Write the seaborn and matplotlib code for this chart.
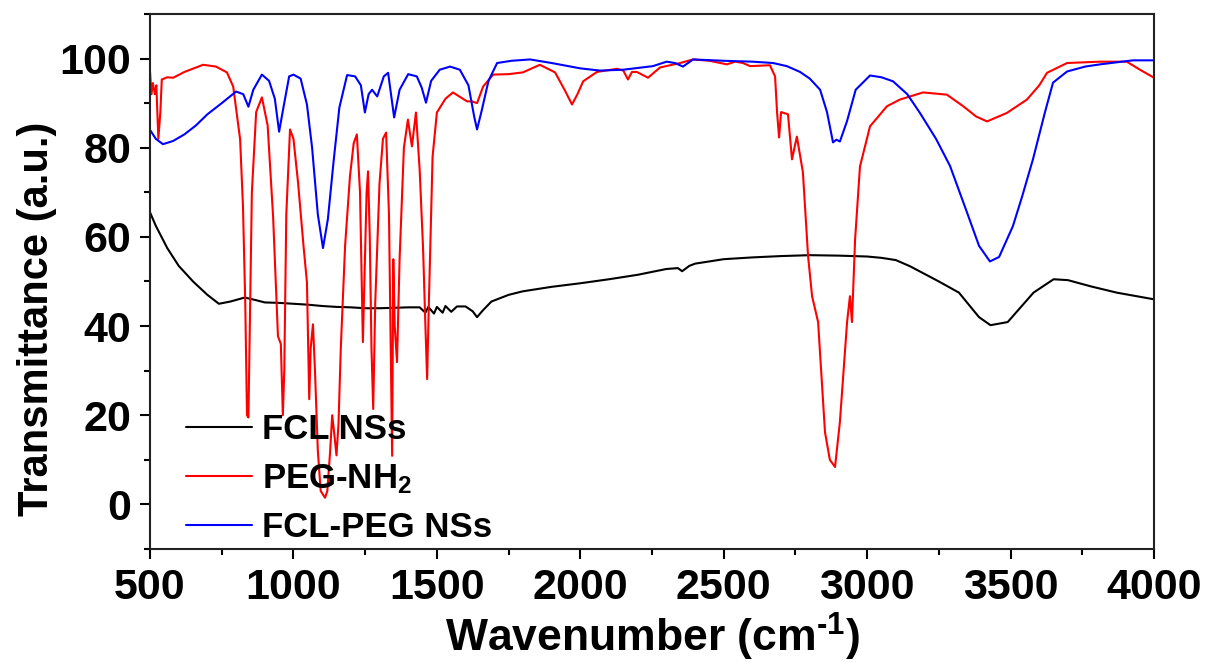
import pandas as pd
import matplotlib
matplotlib.use("Agg")
import matplotlib.pyplot as plt
from matplotlib.ticker import MultipleLocator
import seaborn as sns

# FCL NSs (black)
fcl_wn = [500, 520, 560, 600, 650, 700, 740, 780, 830, 870, 900, 950, 1000, 1050, 1100, 1150,
          1200, 1250, 1300, 1350, 1400, 1440, 1460, 1470, 1490, 1500, 1520, 1530, 1550, 1570,
          1600, 1625, 1640, 1660, 1690, 1750, 1800, 1900, 2000, 2100, 2200, 2300, 2340, 2355,
          2380, 2400, 2500, 2600, 2700, 2800, 2900, 3000, 3050, 3100, 3150, 3250, 3320, 3390,
          3430, 3490, 3580, 3650, 3700, 3780, 3870, 4000]
fcl_t = [65.5, 62.5, 57.5, 53.5, 50, 47, 45, 45.5, 46.4, 45.8, 45.3, 45.2, 45, 44.8, 44.5, 44.3,
         44.2, 44, 44, 44.1, 44.2, 44.2, 43, 44.3, 42.8, 44.3, 43, 44.5, 43.2, 44.4,
         44.4, 43.3, 42, 43.5, 45.5, 47, 47.8, 48.8, 49.6, 50.5, 51.5, 52.8, 53, 52.3,
         53.5, 54, 55, 55.4, 55.7, 55.9, 55.8, 55.6, 55.3, 54.8, 53.4, 50, 47.5, 42,
         40.2, 40.9, 47.5, 50.5, 50.3, 48.9, 47.5, 46]

# PEG-NH2 (red)
peg_wn = [500, 505, 510, 517, 522, 529, 536, 541, 560, 581, 620, 685, 730, 768, 790, 814, 824,
          832, 838, 843, 848, 855, 870, 890, 910, 929, 946, 956, 963, 968, 975, 988, 1000, 1016,
          1035, 1047, 1055, 1060, 1068, 1075, 1085, 1095, 1110, 1118, 1128, 1135, 1142, 1150,
          1157, 1165, 1180, 1197, 1210, 1221, 1232, 1238, 1242, 1248, 1255, 1260, 1266, 1272,
          1278, 1285, 1300, 1312, 1323, 1333, 1340, 1344, 1348, 1353, 1361, 1370, 1385, 1399,
          1413, 1427, 1440, 1452, 1460, 1466, 1472, 1485, 1500, 1530, 1556, 1605, 1622, 1640,
          1661, 1696, 1750, 1800, 1859, 1912, 1945, 1971, 1990, 2010, 2058, 2128, 2150, 2166,
          2180, 2197, 2236, 2278, 2348, 2393, 2450, 2511, 2540, 2567, 2592, 2661, 2679, 2686,
          2693, 2700, 2724, 2738, 2755, 2776, 2794, 2808, 2829, 2853, 2870, 2888, 2905, 2930,
          2940, 2947, 2958, 2975, 3010, 3069, 3114, 3195, 3278, 3335, 3380, 3418, 3487, 3557,
          3600, 3627, 3697, 3812, 3905, 3951, 4000]
peg_t = [97, 92, 94.5, 92, 94, 82, 88, 95.3, 95.8, 95.7, 97, 98.6, 98.2, 96.9, 93.7, 81.9, 66.9,
         45, 20, 19.5, 40, 70, 88, 91.3, 85, 64.6, 37.7, 36, 20, 30, 65, 84.1, 82, 72.2,
         58, 49.8, 23.6, 35, 40.4, 30, 12, 3, 1.5, 3, 12, 20, 16, 11,
         18, 35, 58, 73.6, 81, 83, 70, 50, 36.4, 52, 70, 74.7, 60, 35,
         21.4, 45, 72, 82, 83.4, 65, 30, 10.9, 55, 40, 31.9, 55, 80, 86.3,
         80.3, 87.9, 75, 57.2, 40, 28.1, 45, 78, 87.9, 91, 92.4, 90.4, 90.4, 90,
         93.7, 96.4, 96.5, 96.9, 98.6, 96.9, 93, 89.7, 92, 94.9, 97, 97.7, 97.3, 95.3,
         97, 97, 95.7, 98, 99, 99.8, 99.5, 98.7, 99.3, 99, 98.3, 98.5, 96, 87.9,
         82.3, 88, 87.5, 77.4, 82.5, 74.5, 55.7, 46.7, 40.9, 16.2, 10, 8.4, 18.5, 40.9,
         46.7, 40.9, 59.5, 75.8, 84.8, 89.3, 90.8, 92.4, 91.9, 89.3, 87, 85.9, 87.8, 90.8,
         94, 96.8, 99, 99.3, 99.3, 97.5, 95.7]

# FCL-PEG NSs (blue)
fclpeg_wn = [500, 520, 545, 580, 620, 660, 700, 750, 800, 825, 843, 860, 890, 915, 935, 950, 965,
             985, 1000, 1025, 1047, 1065, 1085, 1103, 1120, 1140, 1160, 1187, 1215, 1235, 1249,
             1262, 1274, 1292, 1315, 1330, 1351, 1370, 1400, 1430, 1447, 1462, 1480, 1510, 1546,
             1580, 1610, 1630, 1640, 1655, 1680, 1710, 1760, 1825, 1900, 2000, 2069, 2150, 2253,
             2301, 2330, 2358, 2393, 2500, 2600, 2672, 2720, 2766, 2800, 2836, 2860, 2881, 2893,
             2905, 2930, 2960, 3010, 3050, 3090, 3140, 3184, 3240, 3289, 3348, 3390, 3428, 3460,
             3508, 3540, 3578, 3620, 3648, 3697, 3760, 3812, 3927, 4000]
fclpeg_t = [84, 82, 80.8, 81.5, 83, 85, 87.5, 90, 92.6, 92, 89.2, 93, 96.4, 95, 91, 83.6, 89,
            96, 96.4, 95.5, 89.7, 80, 65, 57.5, 64, 77, 89, 96.3, 96, 94, 87.9,
            92, 93, 91.5, 96, 96.8, 86.8, 93, 96.5, 96, 93.5, 90.1, 95, 97.5, 98.2,
            97.5, 94, 87, 84.1, 88, 95, 99, 99.5, 99.8, 99, 97.8, 97.3, 97.5, 98.3,
            99.3, 99, 98.2, 99.8, 99.5, 99.3, 99, 98.3, 97, 95.5, 93, 88, 81.2, 81.8,
            81.4, 86, 93, 96.2, 95.8, 94.9, 92, 87.8, 82, 75.9, 65.5, 58, 54.5, 55.5,
            62.4, 69, 77.4, 88, 94.6, 97.1, 98.2, 98.7, 99.6, 99.6]

labels = ["FCL NSs", "PEG-NH$_2$", "FCL-PEG NSs"]
colors = ["black", "red", "blue"]

df = pd.concat([
    pd.DataFrame({"wn": fcl_wn, "T": fcl_t, "sample": labels[0]}),
    pd.DataFrame({"wn": peg_wn, "T": peg_t, "sample": labels[1]}),
    pd.DataFrame({"wn": fclpeg_wn, "T": fclpeg_t, "sample": labels[2]}),
], ignore_index=True)

sns.set_style("ticks")
plt.rcParams["font.family"] = ["Liberation Sans", "DejaVu Sans"]
plt.rcParams["font.weight"] = "bold"
plt.rcParams["mathtext.default"] = "regular"
plt.rcParams["mathtext.fontset"] = "custom"
plt.rcParams["mathtext.rm"] = "Liberation Sans"
plt.rcParams["mathtext.bf"] = "Liberation Sans:bold"
for key in ["text.color", "axes.labelcolor", "xtick.color", "ytick.color"]:
    plt.rcParams[key] = "black"

fig = plt.figure(figsize=(12.08, 6.62), dpi=100)
ax = fig.add_axes([0.1242, 0.1707, 0.8311, 0.8082])

sns.lineplot(data=df, x="wn", y="T", hue="sample", hue_order=labels,
             palette=dict(zip(labels, colors)), estimator=None, sort=False,
             linewidth=1.5, ax=ax)

ax.set_xlim(500, 4000)
ax.set_ylim(-10, 110)
ax.xaxis.set_major_locator(MultipleLocator(500))
ax.xaxis.set_minor_locator(MultipleLocator(250))
ax.yaxis.set_major_locator(MultipleLocator(20))
ax.yaxis.set_minor_locator(MultipleLocator(10))
ax.tick_params(axis="both", which="major", direction="out", length=7.5, width=1.5,
               labelsize=31, pad=6, top=False, right=False, colors="black")
ax.tick_params(axis="both", which="minor", direction="out", length=4.5, width=1.5,
               top=False, right=False, colors="black")
for lab in ax.get_xticklabels() + ax.get_yticklabels():
    lab.set_fontweight("bold")
for side in ["top", "right", "bottom", "left"]:
    ax.spines[side].set_visible(True)
    ax.spines[side].set_linewidth(1.5)
    ax.spines[side].set_color("#222222")

ax.set_xlabel("Wavenumber (cm$^{\u2010 1}$)", fontsize=32, fontweight="bold", labelpad=2)
ax.set_ylabel("Transmittance (a.u.)", fontsize=30, fontweight="bold")
ax.yaxis.set_label_coords(-0.093, 0.43)

ax.legend(loc="lower left", bbox_to_anchor=(0.015, -0.03), frameon=False, borderpad=0.1,
          prop={"size": 25, "weight": "bold"}, handlelength=1.9, handletextpad=0.3,
          labelspacing=0.45)

fig.savefig("out.png", dpi=100)
